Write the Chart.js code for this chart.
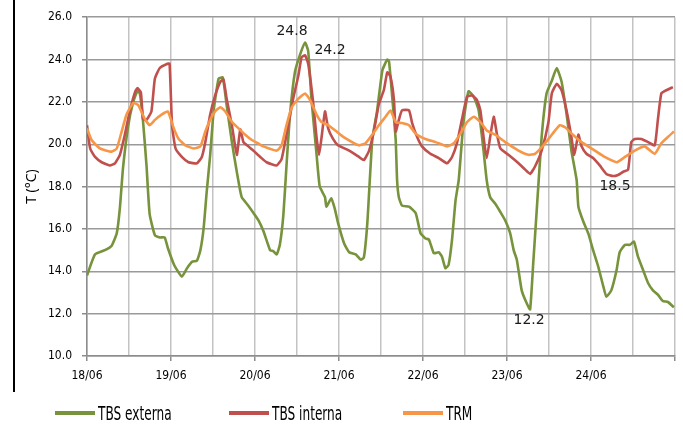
<!DOCTYPE html>
<html>
<head>
<meta charset="utf-8">
<script src="https://cdn.jsdelivr.net/npm/chart.js@4.4.1/dist/chart.umd.min.js"></script>
<style>
  html, body { margin: 0; padding: 0; background: #fff; }
  #wrap { position: relative; width: 683px; height: 426px; overflow: hidden; }
  #frame { position: absolute; left: 13px; top: 0; width: 2px; height: 392px; background: #000; }
  .leg { position: absolute; top: 401px; height: 24px; display: flex; align-items: center;
         font-family: 'DejaVu Sans Condensed', 'Liberation Sans Narrow', 'Open Sans', sans-serif; font-size: 19px; color: #000; white-space: nowrap; }
  .leg span.sw { display: inline-block; width: 40px; height: 4px; margin-right: 3px; }
  .leg span.tx { display: inline-block; transform: scaleX(0.71); transform-origin: 0 50%; }
</style>
</head>
<body>
<div id="wrap">
  <canvas id="c" width="683" height="426"></canvas>
  <div id="frame"></div>
  <div id="legend"></div>
</div>
<script>
// ---- data (x = hours since 18/06 00:00) ----
const dayLabels = ['18/06', '19/06', '20/06', '21/06', '22/06', '23/06', '24/06'];
const seriesNames = ['TBS externa', 'TBS interna', 'TRM'];

const extHours = [0, 2.3, 5.1, 7.0, 8.5, 9.4, 10.3, 11.8, 13.2, 14.4, 15.1, 16.0, 17.0, 17.9, 19.4, 20.8, 22.2, 23.1,
  24.9, 27.1, 28.6, 30.0, 31.4, 32.4, 33.3, 34.2, 35.2, 36.2, 37.6, 38.8, 39.9, 41.4, 42.8, 44.2, 46.1,
  48.0, 49.0, 50.4, 52.3, 53.2, 54.2, 55.1, 56.1, 57.0, 58.0, 59.4, 60.8, 62.3, 63.2, 64.1, 65.6, 66.5, 68.0, 68.4, 69.8, 70.8, 71.7,
  73.5, 74.9, 76.8, 78.2, 79.1, 80.1, 81.5, 82.9, 84.4, 85.8, 86.3, 87.2, 88.2, 88.6, 89.1, 90.0, 92.0, 93.9, 95.3,
  96.7, 97.7, 99.1, 100.5, 101.4, 102.4, 103.3, 104.3, 105.3, 106.2, 107.6, 109.0, 110.5, 111.9, 113.3, 114.2, 115.2, 116.6, 118.1, 119.5,
  120.9, 121.9, 122.8, 124.2, 125.6, 126.6, 127.5, 128.5, 129.9, 131.3, 132.8, 134.2, 135.6, 137.0, 138.4, 139.9, 140.4, 141.8, 143.2,
  144.6, 146.1, 147.5, 148.4, 149.8, 151.3, 152.2, 153.7, 155.1, 156.3, 157.4, 158.9, 160.3, 161.7, 163.1, 164.5, 166.0, 167.7];
const extTemps = [13.8, 14.8, 15.0, 15.2, 15.8, 17.0, 18.9, 20.9, 22.0, 22.5, 22.4, 21.1, 19.0, 16.7, 15.7, 15.6, 15.6, 15.1,
  14.3, 13.75, 14.15, 14.45, 14.5, 15.0, 16.0, 17.75, 19.5, 21.6, 23.1, 23.15, 21.85, 20.1, 18.7, 17.5, 17.1,
  16.65, 16.4, 15.9, 15.0, 14.95, 14.8, 15.25, 16.65, 19.0, 21.4, 23.4, 24.2, 24.8, 24.4, 22.2, 19.5, 18.0, 17.5, 17.05, 17.45, 16.95, 16.3,
  15.3, 14.9, 14.8, 14.55, 14.65, 16.3, 20.2, 21.6, 23.5, 24.0, 23.9, 22.25, 20.2, 18.3, 17.5, 17.1, 17.05, 16.75, 15.8,
  15.55, 15.5, 14.85, 14.9, 14.7, 14.15, 14.3, 15.5, 17.35, 18.3, 21.1, 22.5, 22.25, 21.6, 19.7, 18.3, 17.5, 17.2, 16.8, 16.4,
  15.8, 15.0, 14.55, 13.1, 12.5, 12.2, 14.4, 16.9, 20.35, 22.4, 23.0, 23.6, 22.95, 21.45, 19.7, 18.3, 17.05, 16.35, 15.8,
  15.0, 14.2, 13.3, 12.8, 13.1, 14.05, 14.9, 15.25, 15.25, 15.4, 14.7, 14.05, 13.45, 13.1, 12.9, 12.6, 12.55, 12.3];

const intHours = [0, 0.9, 2.3, 4.2, 6.5, 8.0, 9.4, 10.8, 12.2, 13.7, 14.4, 15.4, 16.0, 17.0, 18.4, 19.4, 20.8, 23.0, 23.6,
  24.3, 25.3, 27.1, 29.0, 31.4, 32.8, 33.8, 35.2, 36.6, 38.1, 39.0, 39.9, 41.4, 42.8, 43.8, 44.7, 46.1, 47.5,
  49.5, 51.3, 54.2, 55.6, 57.0, 58.9, 60.4, 61.3, 62.3, 63.2, 64.6, 65.6, 66.3, 67.0, 68.0, 68.9, 70.3, 71.7,
  74.9, 77.7, 79.1, 80.6, 82.0, 83.4, 84.8, 85.8, 86.7, 87.7, 88.2, 89.1, 90.0, 92.0, 92.9, 94.3, 95.7,
  98.1, 100.5, 102.9, 104.3, 105.7, 107.1, 108.6, 110.0, 111.4, 112.4, 113.3, 114.2, 115.2, 116.2, 117.1, 118.1,
  120.4, 123.3, 125.2, 126.6, 128.0, 129.9, 131.8, 132.8, 134.2, 135.6, 137.0, 138.4, 139.2, 140.4, 141.3, 142.7,
  144.6, 146.5, 148.4, 150.3, 151.7, 153.2, 154.6, 155.5, 156.5, 158.4, 160.3, 162.2, 163.1, 164.1, 165.5, 167.4];
const intTemps = [20.9, 19.8, 19.4, 19.15, 19.0, 19.1, 19.5, 20.45, 21.55, 22.45, 22.65, 22.45, 21.2, 21.15, 21.55, 23.1, 23.6, 23.8, 23.8,
  20.9, 19.8, 19.4, 19.15, 19.1, 19.4, 20.1, 21.4, 22.3, 22.95, 23.05, 22.15, 20.9, 19.5, 20.7, 20.1, 19.9, 19.7,
  19.4, 19.15, 19.0, 19.3, 20.45, 22.15, 23.25, 24.1, 24.2, 23.8, 22.0, 20.3, 19.5, 20.3, 21.55, 20.75, 20.25, 19.95,
  19.7, 19.4, 19.25, 19.7, 20.65, 21.9, 22.55, 23.4, 23.2, 22.1, 20.6, 21.15, 21.6, 21.6, 21.0, 20.35, 19.9,
  19.55, 19.35, 19.1, 19.4, 20.05, 21.15, 22.25, 22.3, 22.1, 21.6, 20.35, 19.35, 20.35, 21.3, 20.5, 19.8,
  19.5, 19.1, 18.8, 18.6, 18.95, 19.7, 21.0, 22.4, 22.85, 22.55, 21.6, 20.35, 19.5, 20.45, 19.9, 19.55,
  19.35, 19.0, 18.6, 18.5, 18.55, 18.7, 18.8, 20.1, 20.25, 20.25, 20.1, 19.95, 21.15, 22.4, 22.55, 22.7];

const trmHours = [0, 1.3, 3.7, 7.0, 8.5, 9.9, 11.3, 13.2, 14.6, 16.5, 17.9, 19.4, 21.3, 23.1,
  24.8, 26.2, 28.1, 30.5, 32.4, 33.8, 35.2, 36.6, 38.1, 39.5, 41.4, 43.3, 45.2, 47.1,
  48.8, 50.4, 54.2, 55.6, 57.0, 58.4, 60.4, 62.3, 63.7, 65.6, 67.0, 68.9, 71.3,
  73.2, 77.7, 79.6, 81.5, 83.4, 85.3, 86.7, 88.2, 90.0, 92.0, 93.9,
  96.7, 99.6, 102.9, 104.8, 106.7, 108.6, 110.5, 112.4, 114.2, 116.6, 119.5,
  123.3, 126.1, 128.0, 130.4, 132.8, 135.1, 136.6, 138.5, 141.3,
  145.1, 147.9, 151.3, 153.7, 156.5, 159.3, 162.2, 164.1, 166.0, 167.7];
const trmTemps = [20.75, 20.2, 19.8, 19.65, 19.8, 20.6, 21.4, 21.95, 21.85, 21.2, 20.9, 21.15, 21.4, 21.55,
  20.75, 20.25, 19.95, 19.8, 19.9, 20.6, 21.15, 21.55, 21.75, 21.55, 21.05, 20.75, 20.45, 20.2,
  20.05, 19.9, 19.7, 19.95, 20.9, 21.7, 22.15, 22.4, 22.1, 21.4, 21.05, 20.9, 20.6,
  20.35, 19.95, 20.05, 20.45, 20.9, 21.3, 21.6, 21.05, 21.0, 20.9, 20.5,
  20.25, 20.1, 19.9, 20.05, 20.5, 21.05, 21.3, 21.05, 20.65, 20.45, 20.1,
  19.7, 19.5, 19.55, 19.95, 20.45, 20.9, 20.8, 20.5, 20.1,
  19.7, 19.4, 19.15, 19.4, 19.7, 19.9, 19.55, 20.05, 20.35, 20.6];

const yTicks = [10, 12, 14, 16, 18, 20, 22, 24, 26];

// labelled points: [dataset index, x (hours)]
const labelledPoints = [[0, 62.3], [1, 62.3], [0, 126.6], [1, 150.3]];

// ---- chart ----
const colors = ['#77933C', '#C0504D', '#F79646'];
const toXY = (xs, ys) => xs.map((x, i) => ({ x: x, y: ys[i] }));
const tickFamily = '"DejaVu Sans Condensed", "Liberation Sans Narrow", "Open Sans", sans-serif';

const labelOffsets = [[-13, -11], [25, -5], [-1, 11], [2, 10]];
const valueLabels = {
  id: 'valueLabels',
  afterDatasetsDraw(chart) {
    const ctx = chart.ctx;
    const xs = chart.scales.x, ys = chart.scales.y;
    ctx.save();
    ctx.font = '14px "DejaVu Sans", sans-serif';
    ctx.fillStyle = '#1a1a1a';
    ctx.textAlign = 'center';
    ctx.textBaseline = 'middle';
    labelledPoints.forEach((lp, k) => {
      const ds = chart.data.datasets[lp[0]].data;
      const pt = ds.find(p => Math.abs(p.x - lp[1]) < 0.01);
      if (!pt) return;
      const px = xs.getPixelForValue(pt.x) + labelOffsets[k][0];
      const py = ys.getPixelForValue(pt.y) + labelOffsets[k][1];
      ctx.fillText(pt.y.toFixed(1), px, py);
    });
    ctx.restore();
  }
};

const chart = new Chart(document.getElementById('c'), {
  type: 'line',
  data: {
    datasets: [
      { label: seriesNames[0], data: toXY(extHours, extTemps), borderColor: colors[0], order: 3 },
      { label: seriesNames[1], data: toXY(intHours, intTemps), borderColor: colors[1], order: 2 },
      { label: seriesNames[2], data: toXY(trmHours, trmTemps), borderColor: colors[2], order: 1 }
    ].map(d => Object.assign(d, { borderWidth: 2.6, pointRadius: 0, tension: 0.15, fill: false }))
  },
  options: {
    responsive: false,
    animation: false,
    devicePixelRatio: 1,
    layout: { padding: { top: 17, right: 6, bottom: 34, left: 0 } },
    plugins: { legend: { display: false }, tooltip: { enabled: false } },
    scales: {
      x: {
        type: 'linear', min: 0, max: 168,
        afterBuildTicks: s => { s.ticks = []; for (let v = 0; v <= 168; v += 12) s.ticks.push({ value: v }); },
        afterFit: s => { s.height = 36; },
        ticks: {
          autoSkip: false, maxRotation: 0, padding: 8,
          font: { family: tickFamily, size: 12 }, color: '#000',
          callback: v => (v % 24 === 0 && v < 168) ? dayLabels[v / 24] : ''
        },
        grid: {
          color: '#c3c3c3', lineWidth: 1.5, tickLength: 5,
          tickColor: c => (c.tick && c.tick.value % 24 === 0) ? '#8c8c8c' : 'rgba(0,0,0,0)'
        },
        border: { color: '#8c8c8c', width: 1.5 }
      },
      y: {
        min: 10, max: 26,
        afterBuildTicks: s => { s.ticks = yTicks.map(v => ({ value: v })); },
        afterFit: s => { s.width = 87; },
        ticks: {
          padding: 10,
          font: { family: tickFamily, size: 12 }, color: '#000',
          callback: v => Number(v).toFixed(1)
        },
        grid: { color: '#9a9a9a', lineWidth: 1.5, tickLength: 5, tickColor: '#8c8c8c' },
        border: { color: '#8c8c8c', width: 1.5 },
        title: {
          display: true, text: 'T (°C)', color: '#000', padding: { top: 24, bottom: 0 },
          font: { family: '"Open Sans", sans-serif', size: 14 }
        }
      }
    }
  },
  plugins: [valueLabels]
});

// ---- legend (HTML) ----
const legendLeft = [55, 229, 403];
const legend = document.getElementById('legend');
chart.data.datasets.forEach((d, i) => {
  const el = document.createElement('div');
  el.className = 'leg';
  el.style.left = legendLeft[i] + 'px';
  const sw = document.createElement('span');
  sw.className = 'sw';
  sw.style.background = d.borderColor;
  el.appendChild(sw);
  const tx = document.createElement('span');
  tx.className = 'tx';
  tx.textContent = d.label;
  el.appendChild(tx);
  legend.appendChild(el);
});
</script>
</body>
</html>
